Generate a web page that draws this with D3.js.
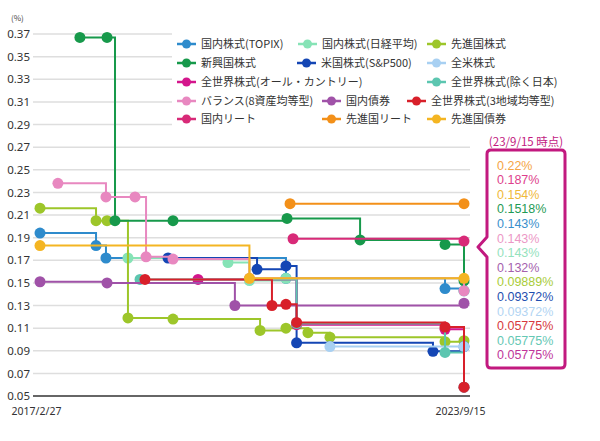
<!DOCTYPE html>
<html>
<head>
<meta charset="utf-8">
<script src="https://cdn.jsdelivr.net/npm/d3@7"></script>
<style>
  body { margin: 0; background: #fff; font-family: "Noto Sans CJK JP", "Noto Sans", sans-serif; }
</style>
</head>
<body>
<div id="chart"></div>
<script>

// fund names (legend order)
var names = ["国内株式(TOPIX)", "国内株式(日経平均)", "先進国株式", "新興国株式", "米国株式(S&P500)", "全米株式",
    "全世界株式(オール・カントリー)", "全世界株式(除く日本)", "バランス(8資産均等型)", "国内債券",
    "全世界株式(3地域均等型)", "国内リート", "先進国リート", "先進国債券"];

// fee history per fund: [date, fee %]
var topix   = [["2017-02-27",0.194],["2018-01-09",0.183],["2018-03-06",0.172],["2020-12-15",0.154],["2023-05-31",0.145],["2023-09-15",0.143]];
var nikkei  = [["2018-07-08",0.172],["2020-01-23",0.168],["2020-05-23",0.152],["2020-12-15",0.154],["2023-09-15",0.143]];
var devEq   = [["2017-02-27",0.216],["2018-01-09",0.205],["2018-03-12",0.205],["2018-07-08",0.119],["2019-03-19",0.118],["2020-07-22",0.108],["2020-12-15",0.110],["2021-04-18",0.106],["2021-08-20",0.102],["2023-05-31",0.098],["2023-09-15",0.09889]];
var emEq    = [["2017-10-10",0.367],["2018-03-12",0.367],["2018-04-26",0.205],["2019-03-19",0.205],["2020-12-21",0.207],["2022-02-06",0.188],["2023-05-31",0.184],["2023-09-15",0.1518]];
var sp500   = [["2019-02-19",0.172],["2020-07-05",0.162],["2020-12-15",0.165],["2021-02-13",0.097],["2023-03-24",0.0895],["2023-09-15",0.09372]];
var usAll   = [["2021-08-20",0.09372],["2023-09-15",0.09372]];
var acwi    = [["2019-08-07",0.153],["2021-02-13",0.113],["2023-05-31",0.109],["2023-09-15",0.05775]];
var exJapan = [["2018-09-14",0.153],["2021-02-13",0.114],["2023-05-31",0.0885],["2023-09-15",0.05775]];
var balance = [["2017-06-08",0.238],["2018-03-06",0.226],["2018-08-17",0.226],["2018-10-18",0.173],["2019-03-19",0.171],["2020-05-23",0.154],["2023-09-15",0.143]];
var jpBond  = [["2017-02-27",0.151],["2018-03-12",0.150],["2020-03-02",0.130],["2023-09-15",0.132]];
var region3 = [["2018-10-12",0.153],["2020-09-27",0.130],["2020-12-15",0.131],["2021-02-13",0.115],["2023-05-31",0.111],["2023-09-15",0.05775]];
var jpReit  = [["2021-01-24",0.189],["2023-09-15",0.187]];
var devReit = [["2021-01-07",0.220],["2023-09-15",0.220]];
var devBond = [["2017-02-27",0.183],["2020-05-23",0.154],["2023-09-15",0.154]];

var seriesData = [topix, nikkei, devEq, emEq, sp500, usAll, acwi, exJapan, balance, jpBond, region3, jpReit, devReit, devBond];

// y tick labels
var yTicks = [0.05,0.07,0.09,0.11,0.13,0.15,0.17,0.19,0.21,0.23,0.25,0.27,0.29,0.31,0.33,0.35,0.37];
var xTicks = ["2017-02-27","2023-09-15"];
var xTickLabels = ["2017/2/27","2023/9/15"];

// latest fee callout
var calloutLabels = ["0.22%","0.187%","0.154%","0.1518%","0.143%","0.143%","0.143%","0.132%","0.09889%","0.09372%","0.09372%","0.05775%","0.05775%","0.05775%"];
var calloutColors = ["#f5a545","#de3f8c","#f0b93a","#1f9a55","#3a90cc","#ec98c6","#95e2bd","#a561ad","#a9cc3a","#1f4fb0","#b3d5f3","#d73a3e","#66c8b4","#c0359a"];

var colors = ["#2e8bcc","#86e3b6","#9dc62a","#17994b","#1446b4","#a8d0f2","#d4168c","#5cc6b0","#e888c0","#a052a8","#d8202a","#d82a78","#f39019","#f4b522"];

var parse = d3.timeParse("%Y-%m-%d");

var svg = d3.select("#chart").append("svg")
    .attr("width", 600)
    .attr("height", 441);

// scales
var x = d3.scaleTime()
        .domain([parse("2017-02-27"), parse("2023-09-15")])
        .range([40, 464]),
    y = d3.scaleLinear()
        .domain([0.05, 0.37])
        .range([396, 34]);

// gridlines
svg.append("g").selectAll("line")
    .data(yTicks.slice(1))
  .enter().append("line")
    .attr("x1", 33).attr("x2", 470)
    .attr("y1", function(d) { return y(d); })
    .attr("y2", function(d) { return y(d); })
    .style("stroke", "#dedede")
    .style("stroke-width", 1.5);

// baseline
svg.append("line")
    .attr("x1", 33).attr("x2", 470)
    .attr("y1", y(0.05)).attr("y2", y(0.05))
    .style("stroke", "#333")
    .style("stroke-width", 1.5);

// y axis
var yAxis = svg.append("g")
    .attr("transform", "translate(30,0)")
    .call(d3.axisLeft(y).tickValues(yTicks).tickSize(0).tickPadding(0).tickFormat(d3.format(".2f")));
yAxis.select(".domain").remove();
yAxis.selectAll("text")
    .style("font-size", "11.5px")
    .style("font-family", "'Noto Sans', sans-serif")
    .attr("fill", "#333");

svg.append("text")
    .attr("x", 11).attr("y", 21)
    .style("font-size", "8px")
    .attr("fill", "#444")
    .text("(%)");

// x axis
var xAxis = svg.append("g")
    .attr("transform", "translate(-4," + (y(0.05) + 9) + ")")
    .call(d3.axisBottom(x).tickValues(xTicks.map(parse)).tickSize(0)
        .tickFormat(function(d, i) { return xTickLabels[i]; }));
xAxis.select(".domain").remove();
xAxis.selectAll("text")
    .style("font-size", "10.5px")
    .style("font-family", "'Noto Sans', sans-serif")
    .attr("fill", "#333");

// legend background covers gridlines
svg.append("rect")
    .attr("x", 172).attr("y", 33)
    .attr("width", 300).attr("height", 96)
    .attr("fill", "#fff");

// step lines
var line = d3.line()
    .curve(d3.curveStepAfter)
    .x(function(d) { return x(parse(d[0])); })
    .y(function(d) { return y(d[1]); });

var fund = svg.selectAll(".fund")
    .data(seriesData)
  .enter().append("g")
    .attr("class", "fund");

fund.append("path")
    .attr("d", function(d) { return line(d); })
    .style("fill", "none")
    .style("stroke-width", 2)
    .style("stroke", function(d, i) { return colors[i]; });

fund.each(function(d, i) {
    d3.select(this).selectAll("circle")
        .data(d)
      .enter().append("circle")
        .attr("cx", function(p) { return x(parse(p[0])); })
        .attr("cy", function(p) { return y(p[1]); })
        .attr("r", 5.5)
        .style("fill", colors[i]);
});

// legend
var legendPos = [[177,44],[298,44],[427,44],[177,63],[297,63],[427,63],[177,82],[427,82],[177,101],[322,101],[407,101],[177,119],[322,119],[427,119]];

var legend = svg.selectAll(".legend")
    .data(names)
  .enter().append("g")
    .attr("class", "legend")
    .attr("transform", function(d, i) { return "translate(" + legendPos[i][0] + "," + legendPos[i][1] + ")"; });

legend.append("line")
    .attr("x1", 0).attr("x2", 19)
    .style("stroke-width", 2.5)
    .style("stroke", function(d, i) { return colors[i]; });

legend.append("circle")
    .attr("cx", 9.5).attr("r", 4.5)
    .style("fill", function(d, i) { return colors[i]; });

legend.append("text")
    .attr("x", 24)
    .attr("dy", "0.36em")
    .style("font-size", "11px")
    .attr("fill", "#333")
    .text(function(d) { return d; });

// callout box
var cx0 = 487, cx1 = 565, cy0 = 150, cy1 = 368, r = 4;
svg.append("path")
    .attr("d", "M" + (cx0 + r) + "," + cy0 + "H" + (cx1 - r) + "Q" + cx1 + "," + cy0 + " " + cx1 + "," + (cy0 + r) +
        "V" + (cy1 - r) + "Q" + cx1 + "," + cy1 + " " + (cx1 - r) + "," + cy1 +
        "H" + (cx0 + r) + "Q" + cx0 + "," + cy1 + " " + cx0 + "," + (cy1 - r) +
        "V257L478,247L" + cx0 + ",237V" + (cy0 + r) + "Q" + cx0 + "," + cy0 + " " + (cx0 + r) + "," + cy0 + "Z")
    .style("fill", "#fff")
    .style("stroke", "#c2197f")
    .style("stroke-width", 3)
    .style("stroke-linejoin", "round");

svg.append("text")
    .attr("x", 526).attr("y", 146)
    .attr("text-anchor", "middle")
    .style("font-size", "11.5px")
    .attr("fill", "#c2197f")
    .text("(23/9/15 時点)");

svg.selectAll(".callout")
    .data(calloutLabels)
  .enter().append("text")
    .attr("class", "callout")
    .attr("x", 497)
    .attr("y", function(d, i) { return 165 + i * 14.6; })
    .attr("dy", "0.36em")
    .style("font-size", "12.5px")
    .style("font-family", "'Liberation Sans', sans-serif")
    .attr("fill", function(d, i) { return calloutColors[i]; })
    .text(function(d) { return d; });

</script>
</body>
</html>
